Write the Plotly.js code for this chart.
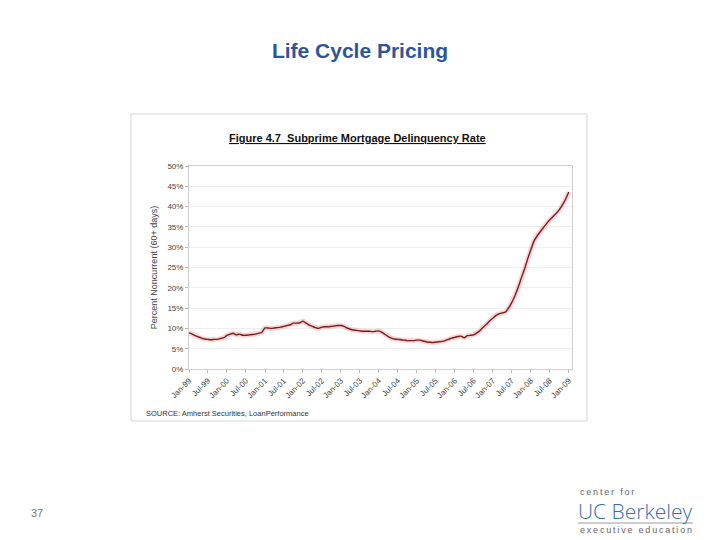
<!DOCTYPE html>
<html>
<head>
<meta charset="utf-8">
<script src="https://cdn.plot.ly/plotly-3.0.1.min.js"></script>
<style>html,body{margin:0;padding:0;background:#fff;}#chart{width:720px;height:540px;}</style>
</head>
<body>
<div id="chart"></div>
<script>
// Monthly subprime delinquency rate (% noncurrent, 60+ days), Jan-1999 .. Jan-2009
const startMonth = '1999-01';
const delinquency = [
  8.9, 8.6, 8.2, 7.9, 7.6, 7.4, 7.3, 7.2, 7.3, 7.3, 7.5, 7.7,
  8.3, 8.6, 8.8, 8.4, 8.6, 8.3, 8.3, 8.4, 8.5, 8.6, 8.8, 9.0,
  10.1, 10.1, 10.0, 10.1, 10.2, 10.3, 10.5, 10.7, 10.9, 11.3, 11.3, 11.4,
  11.8, 11.3, 10.8, 10.5, 10.2, 10.0, 10.3, 10.4, 10.4, 10.5, 10.6, 10.7,
  10.7, 10.5, 10.1, 9.8, 9.6, 9.5, 9.4, 9.3, 9.3, 9.3, 9.2, 9.3,
  9.4, 9.0, 8.5, 8.0, 7.6, 7.4, 7.3, 7.2, 7.1, 7.0, 7.0, 7.0,
  7.1, 7.1, 6.9, 6.7, 6.6, 6.5, 6.6, 6.7, 6.8, 7.0, 7.3, 7.6,
  7.8, 8.0, 8.1, 7.7, 8.2, 8.3, 8.4, 8.9, 9.5, 10.3, 11.0, 11.8,
  12.5, 13.2, 13.6, 13.8, 14.0, 15.0, 16.3, 18.0, 20.0, 22.3, 24.5, 27.0,
  29.3, 31.5, 32.7, 33.8, 34.8, 35.8, 36.7, 37.5, 38.3, 39.2, 40.4, 41.8,
  43.6
];
const yTickVals = [0, 5, 10, 15, 20, 25, 30, 35, 40, 45, 50];
const yTickText = ['0%', '5%', '10%', '15%', '20%', '25%', '30%', '35%', '40%', '45%', '50%'];

// Build month dates for x
const months = [];
{
  const y0 = parseInt(startMonth.slice(0, 4)), m0 = parseInt(startMonth.slice(5, 7)) - 1;
  for (let i = 0; i < delinquency.length; i++) {
    const t = m0 + i, yy = y0 + Math.floor(t / 12), mm = (t % 12) + 1;
    months.push(yy + '-' + (mm < 10 ? '0' : '') + mm + '-01');
  }
}

// Plot area geometry
const L = 189, R = 572, T = 166, B = 369;
const W = 720, H = 540;
const px = v => (v - L) / (R - L);
const py = v => (B - v) / (B - T);
const spaced = s => s.split('').join('\u2009');

const traces = [
  {x: months, y: delinquency, type: 'scatter', mode: 'lines',
   line: {color: '#f3b3b3', width: 5, shape: 'spline', smoothing: 0.4}, opacity: 0.55, hoverinfo: 'skip'},
  {x: months, y: delinquency, type: 'scatter', mode: 'lines',
   line: {color: '#7b1c22', width: 1.4, shape: 'spline', smoothing: 0.4}}
];

const layout = {
  width: W, height: H,
  margin: {l: L, r: W - R, t: T, b: H - B, pad: 0},
  paper_bgcolor: '#ffffff', plot_bgcolor: '#ffffff',
  showlegend: false,
  font: {family: 'Liberation Sans, Arial, sans-serif', color: '#333'},
  title: {
    text: '<b>Life Cycle Pricing</b>',
    font: {family: 'Liberation Sans, Arial, sans-serif', size: 21, color: '#2f5597'},
    xref: 'container', yref: 'container', x: 0.5, y: 1 - 51 / H, xanchor: 'center', yanchor: 'middle'
  },
  xaxis: {
    type: 'date',
    range: ['1999-01-01', '2009-02-01'],
    tick0: '1999-01-01', dtick: 'M6', tickformat: '%b-%y',
    tickangle: -45,
    tickfont: {size: 8, color: '#444'},
    ticks: 'outside', ticklen: 3, tickcolor: '#bbb',
    showgrid: false, zeroline: false,
    showline: true, linecolor: '#cfcfcf', linewidth: 1, mirror: true
  },
  yaxis: {
    range: [0, 50],
    tickvals: yTickVals, ticktext: yTickText,
    tickfont: {size: 8, color: '#444'},
    ticks: 'outside', ticklen: 3, tickcolor: '#bbb',
    showgrid: true, gridcolor: '#eeeeee', gridwidth: 1,
    zeroline: false,
    showline: true, linecolor: '#cfcfcf', linewidth: 1, mirror: true,
    title: {text: 'Percent Noncurrent (60+ days)', font: {size: 9, color: '#444'}, standoff: 8}
  },
  shapes: [
    {type: 'rect', xref: 'paper', yref: 'paper',
     x0: px(131), x1: px(587), y0: py(421), y1: py(114),
     line: {color: '#d6d6d6', width: 1}, layer: 'below'},
    {type: 'line', xref: 'paper', yref: 'paper',
     x0: px(578), x1: px(693), y0: py(523), y1: py(523),
     line: {color: '#9a9a9a', width: 1}}
  ],
  annotations: [
    {xref: 'paper', yref: 'paper', x: px(357), y: py(138), xanchor: 'center', yanchor: 'middle',
     text: '<b><u>Figure 4.7  Subprime Mortgage Delinquency Rate</u></b>', showarrow: false,
     font: {size: 11, color: '#111'}},
    {xref: 'paper', yref: 'paper', x: px(144), y: py(413), xanchor: 'left', yanchor: 'middle',
     text: 'SOURCE: Amherst Securities, LoanPerformance', showarrow: false,
     font: {size: 7.5, color: '#333'}},
    {xref: 'paper', yref: 'paper', x: px(37), y: py(513), xanchor: 'center', yanchor: 'middle',
     text: '37', showarrow: false, font: {size: 11, color: '#777'}},
    {xref: 'paper', yref: 'paper', x: px(578), y: py(492), xanchor: 'left', yanchor: 'middle',
     text: spaced('center for'), showarrow: false, font: {size: 9, color: '#666'}},
    {xref: 'paper', yref: 'paper', x: px(576), y: py(511), xanchor: 'left', yanchor: 'middle',
     text: 'UC Berkeley', showarrow: false,
     font: {family: 'Open Sans, sans-serif', size: 21, color: '#3b6cb4', weight: 300}},
    {xref: 'paper', yref: 'paper', x: px(578), y: py(530), xanchor: 'left', yanchor: 'middle',
     text: spaced('executive education'), showarrow: false, font: {size: 9, color: '#666'}}
  ]
};

Plotly.newPlot('chart', traces, layout, {displayModeBar: false, staticPlot: true});
</script>
</body>
</html>
